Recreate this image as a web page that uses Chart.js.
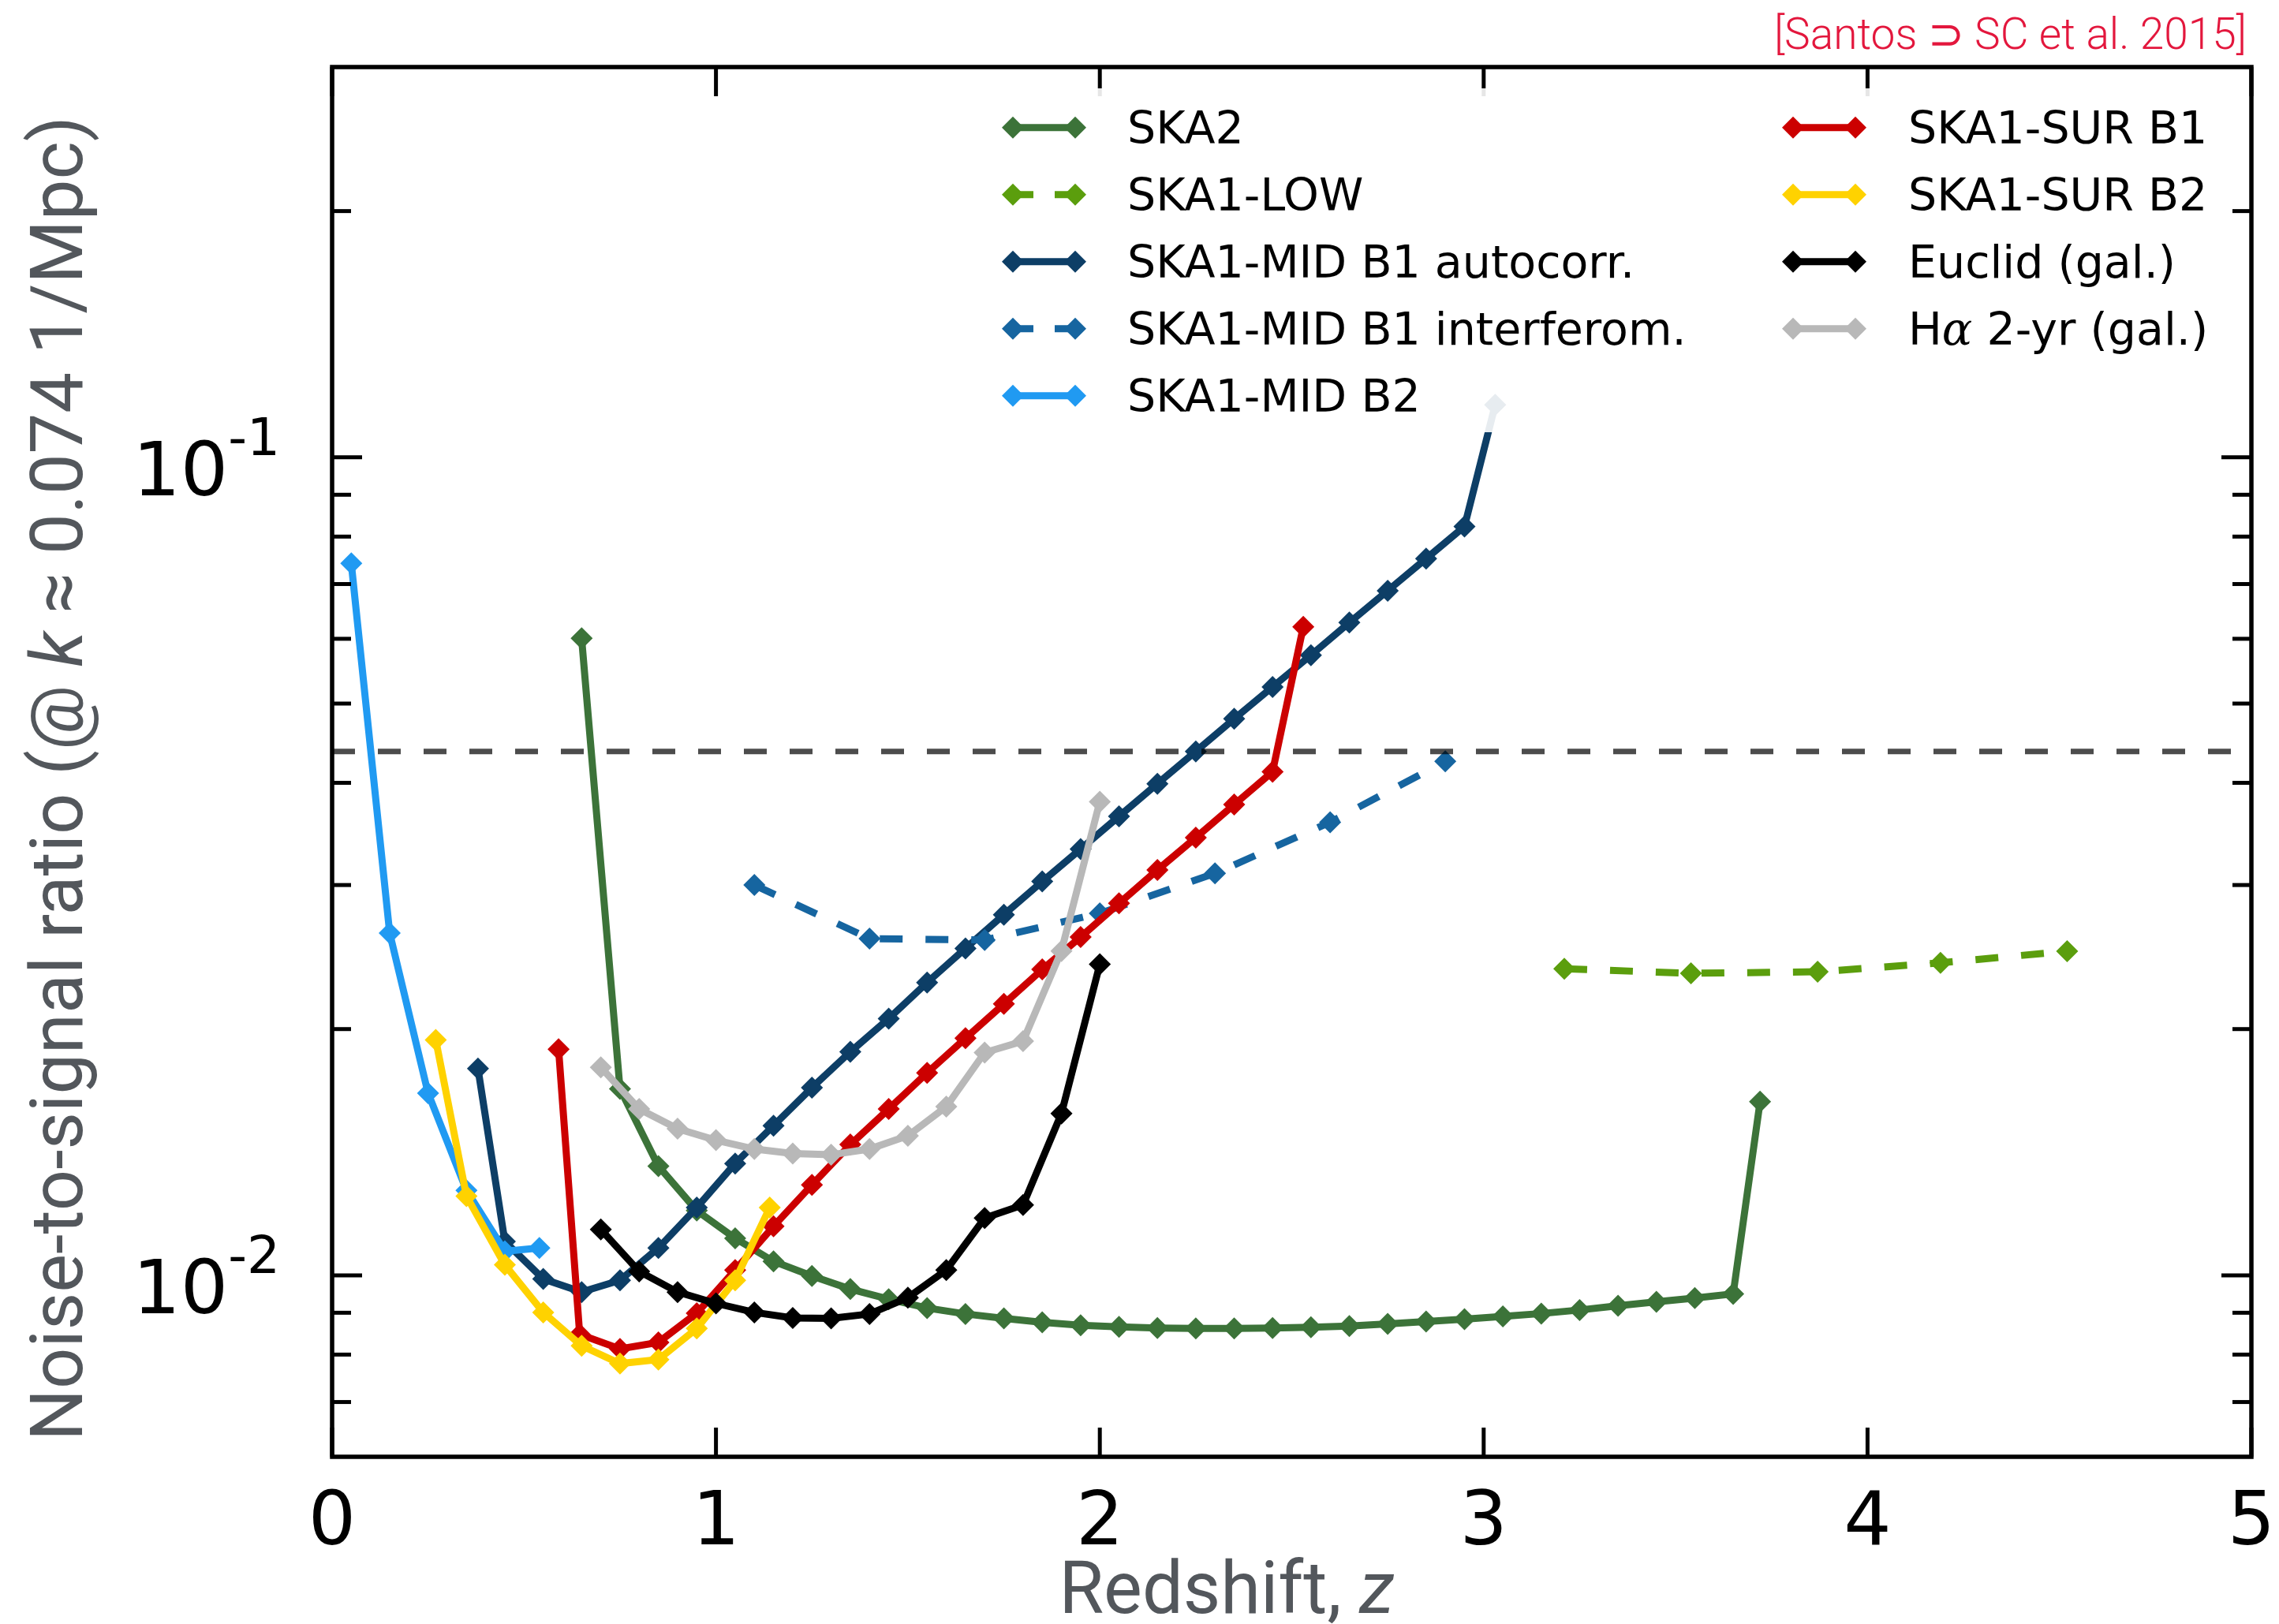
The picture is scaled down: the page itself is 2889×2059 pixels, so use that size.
<!DOCTYPE html>
<html>
<head>
<meta charset="utf-8">
<script src="https://cdn.jsdelivr.net/npm/chart.js@4.4.0/dist/chart.umd.min.js"></script>
<style>
  html, body { margin: 0; padding: 0; background: #fff; }
</style>
</head>
<body>
<canvas id="nsrChart" width="2889" height="2059"></canvas>
<script>
// Data (redshift z, noise-to-signal ratio)
const ska2Z = [0.65, 0.75, 0.85, 0.95, 1.05, 1.15, 1.25, 1.35, 1.45, 1.55, 1.65, 1.75, 1.85, 1.95,
  2.05, 2.15, 2.25, 2.35, 2.45, 2.55, 2.65, 2.75, 2.85, 2.95, 3.05, 3.15, 3.25, 3.35, 3.45, 3.55, 3.65, 3.72];
const ska2Vals = [0.0601, 0.0169, 0.0136, 0.0120, 0.0111, 0.0104, 0.00998, 0.00962, 0.00935, 0.00912,
  0.00897, 0.00886, 0.00876, 0.00869, 0.00865, 0.00862, 0.00861, 0.00861, 0.00862, 0.00864, 0.00867,
  0.00872, 0.00878, 0.00884, 0.00891, 0.00898, 0.00907, 0.00918, 0.00928, 0.00938, 0.00949, 0.0163];

const lowZ = [3.21, 3.54, 3.87, 4.19, 4.52];
const lowVals = [0.0237, 0.0234, 0.0235, 0.0241, 0.0249];

const autoZ = [0.38, 0.45, 0.55, 0.65, 0.75, 0.85, 0.95, 1.05, 1.15, 1.25, 1.35, 1.45, 1.55, 1.65,
  1.75, 1.85, 1.95, 2.05, 2.15, 2.25, 2.35, 2.45, 2.55, 2.65, 2.75, 2.85, 2.95, 3.03];
const autoVals = [0.0179, 0.0110, 0.0099, 0.00954, 0.00986, 0.0108, 0.0121, 0.0137, 0.01524, 0.01696,
  0.01876, 0.0206, 0.0228, 0.0251, 0.0276, 0.0303, 0.0332, 0.0364, 0.0399, 0.0437, 0.0479, 0.0524,
  0.0573, 0.0628, 0.0687, 0.0752, 0.0823, 0.1159];

const interfZ = [1.1, 1.4, 1.7, 2.0, 2.3, 2.6, 2.9];
const interfVals = [0.0300, 0.0258, 0.0257, 0.0277, 0.0310, 0.0358, 0.0425];

const midB2Z = [0.05, 0.15, 0.25, 0.35, 0.45, 0.54];
const midB2Vals = [0.0742, 0.0262, 0.0167, 0.0127, 0.0107, 0.0108];

const surB1Z = [0.59, 0.645, 0.75, 0.85, 0.95, 1.05, 1.15, 1.25, 1.35, 1.45, 1.55, 1.65, 1.75, 1.85,
  1.95, 2.05, 2.15, 2.25, 2.35, 2.45, 2.53];
const surB1Vals = [0.0189, 0.00847, 0.00813, 0.00828, 0.00899, 0.01015, 0.01148, 0.0129, 0.01445,
  0.01597, 0.01768, 0.01949, 0.02147, 0.02366, 0.02592, 0.02849, 0.0313, 0.03428, 0.03763, 0.04127, 0.06205];

const surB2Z = [0.27, 0.35, 0.45, 0.55, 0.65, 0.75, 0.85, 0.95, 1.05, 1.14];
const surB2Vals = [0.0194, 0.0125, 0.0103, 0.00901, 0.0082, 0.0078, 0.00789, 0.00861, 0.00986, 0.0121];

const galZ = [0.7, 0.8, 0.9, 1.0, 1.1, 1.2, 1.3, 1.4, 1.5, 1.6, 1.7, 1.8, 1.9, 2.0];
const euclidVals = [0.01138, 0.01011, 0.00954, 0.00924, 0.00901, 0.00887, 0.00886, 0.00897, 0.00939,
  0.01015, 0.01175, 0.01219, 0.01577, 0.0240];
const halphaVals = [0.01796, 0.01597, 0.01511, 0.01463, 0.01427, 0.01409, 0.01404, 0.01427, 0.01481,
  0.01608, 0.01872, 0.01933, 0.02492, 0.03793];

const thresholdLevel = 0.0437;

// Axis ticks
const xTicks = [0, 1, 2, 3, 4, 5];
const yMajorTicks = [0.01, 0.1];
const yTickExponents = ['-2', '-1'];
const yMinorTicks = [0.007, 0.008, 0.009, 0.02, 0.03, 0.04, 0.05, 0.06, 0.07, 0.08, 0.09, 0.2];

const series = [
  { label: 'SKA2', z: ska2Z, v: ska2Vals, color: '#3c7339', dash: false },
  { label: 'SKA1-LOW', z: lowZ, v: lowVals, color: '#5b9e0d', dash: true },
  { label: 'SKA1-MID B1 autocorr.', z: autoZ, v: autoVals, color: '#0d3e66', dash: false },
  { label: 'SKA1-MID B1 interferom.', z: interfZ, v: interfVals, color: '#1665a0', dash: true },
  { label: 'SKA1-MID B2', z: midB2Z, v: midB2Vals, color: '#209af2', dash: false },
  { label: 'SKA1-SUR B1', z: surB1Z, v: surB1Vals, color: '#cc0000', dash: false },
  { label: 'SKA1-SUR B2', z: surB2Z, v: surB2Vals, color: '#ffd200', dash: false },
  { label: 'Euclid (gal.)', z: galZ, v: euclidVals, color: '#000000', dash: false },
  { label: 'H\u03b1 2-yr (gal.)', z: galZ, v: halphaVals, color: '#b8b8b8', dash: false }
];

const DASH = [29, 29];
const LINE_W = 9;
const datasets = series.map((s, i) => ({
  label: s.label,
  data: s.z.map((z, k) => ({ x: z, y: s.v[k] })),
  borderColor: s.color,
  backgroundColor: s.color,
  pointBackgroundColor: s.color,
  borderDash: s.dash ? DASH : [],
  order: series.length - i
}));

datasets.push({
  label: 'threshold',
  data: [{ x: 0, y: thresholdLevel }, { x: 5, y: thresholdLevel }],
  borderColor: 'rgba(0,0,0,0.7)',
  borderWidth: 7,
  borderDash: DASH,
  pointRadius: 0,
  order: -1
});

const TICK_FONT = '95px "DejaVu Sans"';
const SUP_FONT = '66px "DejaVu Sans"';
const TITLE_GRAY = '#53575c';

// frame, inward ticks on all sides and tick labels
const frameTicks = {
  id: 'frameTicks',
  afterDatasetsDraw(chart) {
    const { ctx, chartArea: a, scales: { x, y } } = chart;
    const seg = (x1, y1, x2, y2) => { ctx.beginPath(); ctx.moveTo(x1, y1); ctx.lineTo(x2, y2); ctx.stroke(); };
    ctx.save();
    ctx.strokeStyle = '#000';
    ctx.lineWidth = 5;
    xTicks.forEach(v => {
      const px = x.getPixelForValue(v);
      seg(px, a.bottom, px, a.bottom - 37);
      seg(px, a.top, px, a.top + 37);
    });
    yMajorTicks.forEach(v => {
      const py = y.getPixelForValue(v);
      seg(a.left, py, a.left + 38, py);
      seg(a.right, py, a.right - 38, py);
    });
    yMinorTicks.forEach(v => {
      const py = y.getPixelForValue(v);
      seg(a.left, py, a.left + 24, py);
      seg(a.right, py, a.right - 24, py);
    });
    ctx.lineWidth = 5.5;
    ctx.strokeRect(a.left, a.top, a.right - a.left, a.bottom - a.top);

    ctx.fillStyle = '#000';
    ctx.font = TICK_FONT;
    ctx.textAlign = 'center';
    ctx.textBaseline = 'alphabetic';
    xTicks.forEach(v => ctx.fillText(String(v), x.getPixelForValue(v), 1958));

    yMajorTicks.forEach((v, i) => {
      const py = y.getPixelForValue(v);
      const right = a.left - 66;
      ctx.font = SUP_FONT;
      ctx.textAlign = 'right';
      ctx.fillText(yTickExponents[i], right, py - 2.5);
      const supW = ctx.measureText(yTickExponents[i]).width;
      ctx.font = TICK_FONT;
      ctx.fillText('10', right - supW, py + 48.5);
    });
    ctx.restore();
  }
};

// legend box, axis titles and citation
const overlay = {
  id: 'overlay',
  afterDraw(chart) {
    const ctx = chart.ctx;
    ctx.save();
    ctx.fillStyle = 'rgba(255,255,255,0.9)';
    ctx.fillRect(1240, 112, 1589, 436);

    const rowY = [161.7, 246.7, 331.7, 416.7, 501.7];
    const cols = [{ x0: 1284, tx: 1429 }, { x0: 2273, tx: 2419 }];
    const legendFont = '57px "DejaVu Sans"';
    ctx.textBaseline = 'alphabetic';
    ctx.textAlign = 'left';
    series.forEach((s, i) => {
      const col = cols[i < 5 ? 0 : 1];
      const yy = rowY[i < 5 ? i : i - 5];
      const x1 = col.x0, x2 = col.x0 + 79;
      ctx.strokeStyle = s.color;
      ctx.fillStyle = s.color;
      ctx.lineWidth = LINE_W;
      ctx.setLineDash(s.dash ? [26, 27] : []);
      ctx.beginPath(); ctx.moveTo(x1, yy); ctx.lineTo(x2, yy); ctx.stroke();
      ctx.setLineDash([]);
      [x1, x2].forEach(cx => {
        ctx.beginPath();
        ctx.moveTo(cx - 14, yy); ctx.lineTo(cx, yy - 14);
        ctx.lineTo(cx + 14, yy); ctx.lineTo(cx, yy + 14);
        ctx.closePath(); ctx.fill();
      });
      ctx.fillStyle = '#000';
      ctx.font = legendFont;
      if (s.label.indexOf('\u03b1') >= 0) {
        // H with italic alpha, as in the original mathtext
        const [pre, post] = s.label.split('\u03b1');
        ctx.fillText(pre, col.tx, yy + 20);
        let cx = col.tx + ctx.measureText(pre).width;
        ctx.font = 'italic 57px "DejaVu Serif"';
        ctx.fillText('\u03b1', cx, yy + 20);
        cx += ctx.measureText('\u03b1').width;
        ctx.font = legendFont;
        ctx.fillText(post, cx, yy + 20);
      } else {
        ctx.fillText(s.label, col.tx, yy + 20);
      }
    });

    // x title
    ctx.fillStyle = TITLE_GRAY;
    const xa = 'Redshift, ', xb = 'z';
    ctx.font = '92px Roboto';
    const wa = ctx.measureText(xa).width;
    ctx.font = 'italic 92px Roboto';
    const wb = ctx.measureText(xb).width;
    const sx = 1555 - (wa + wb) / 2;
    ctx.font = '92px Roboto';
    ctx.fillText(xa, sx, 2045);
    ctx.font = 'italic 92px Roboto';
    ctx.fillText(xb, sx + wa, 2045);

    // y title
    const parts = [['Noise-to-signal ratio (@ ', '92px Roboto'], ['k', 'italic 92px Roboto'],
      [' \u2248 0.074 1/Mpc)', '92px Roboto']];
    let total = 0;
    parts.forEach(p => { ctx.font = p[1]; total += ctx.measureText(p[0]).width; });
    ctx.save();
    ctx.translate(104, 987 + total / 2);
    ctx.rotate(-Math.PI / 2);
    let px = 0;
    parts.forEach(p => { ctx.font = p[1]; ctx.fillText(p[0], px, 0); px += ctx.measureText(p[0]).width; });
    ctx.restore();

    // citation
    ctx.fillStyle = '#e3173d';
    ctx.font = '300 55px Roboto, "DejaVu Sans"';
    ctx.textAlign = 'right';
    ctx.fillText('[Santos \u2283 SC et al. 2015]', 2848, 62);
    ctx.restore();
  }
};

new Chart(document.getElementById('nsrChart'), {
  type: 'line',
  data: { datasets },
  options: {
    responsive: false,
    animation: false,
    devicePixelRatio: 1,
    layout: { padding: { top: 85, right: 35, left: 0, bottom: 0 } },
    elements: {
      line: { borderWidth: LINE_W, tension: 0, fill: false },
      point: { pointStyle: 'rectRot', radius: 14, borderWidth: 0 }
    },
    plugins: { legend: { display: false }, tooltip: { enabled: false } },
    scales: {
      x: {
        type: 'linear', min: 0, max: 5,
        grid: { display: false, drawTicks: false },
        border: { display: false },
        ticks: { display: false },
        afterFit: s => { s.height = 212; }
      },
      y: {
        type: 'logarithmic', min: 0.006, max: 0.3,
        grid: { display: false, drawTicks: false },
        border: { display: false },
        ticks: { display: false },
        afterFit: s => { s.width = 421; }
      }
    }
  },
  plugins: [frameTicks, overlay]
});
</script>
</body>
</html>
